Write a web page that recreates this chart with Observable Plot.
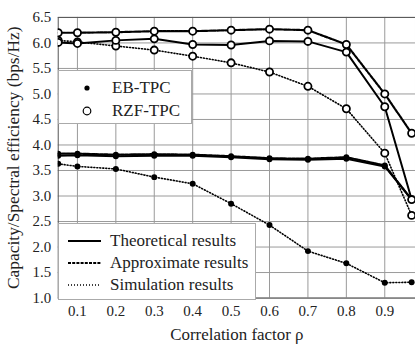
<!DOCTYPE html>
<html><head><meta charset="utf-8">
<script src="https://cdn.jsdelivr.net/npm/d3@7"></script>
<script src="https://cdn.jsdelivr.net/npm/@observablehq/plot@0.6"></script>
<style>
body{margin:0;overflow:hidden;background:#fff;}
#wrap{position:relative;width:415px;height:347px;overflow:hidden;font-family:"Liberation Serif","Times New Roman","DejaVu Serif",serif;color:#222;}
#wrap svg text{font-family:"Liberation Serif","Times New Roman","DejaVu Serif",serif;}
#wrap g[aria-label="y-axis label"] text{font-size:17.5px;}
#wrap g[aria-label="x-axis label"] text{font-size:17px;}
.leg{position:absolute;background:#fff;border:1px solid #aaa;box-sizing:border-box;}
.row{position:absolute;left:0;white-space:nowrap;font-size:17px;line-height:20px;}
.row svg{position:absolute;top:0;}
.row span{position:absolute;top:0;}
</style></head><body><div id="wrap"></div>
<script>
const rho = [0.05, 0.1, 0.2, 0.3, 0.4, 0.5, 0.6, 0.7, 0.8, 0.9, 0.97];
const rzfTheory = [6.01, 5.99, 6.05, 6.08, 5.97, 5.96, 6.04, 6.03, 5.82, 4.75, 2.93];
const rzfApprox = [6.20, 6.20, 6.21, 6.23, 6.23, 6.25, 6.27, 6.25, 5.97, 5.00, 4.23];
const rzfSim    = [6.05, 6.02, 5.94, 5.86, 5.74, 5.61, 5.43, 5.15, 4.71, 3.84, 2.62];
const ebTheory  = [3.79, 3.80, 3.78, 3.79, 3.79, 3.76, 3.72, 3.71, 3.73, 3.58, 2.93];
const ebApprox  = [3.83, 3.83, 3.81, 3.82, 3.81, 3.78, 3.74, 3.73, 3.76, 3.60, 2.93];
const ebSim     = [3.63, 3.58, 3.53, 3.37, 3.24, 2.85, 2.43, 1.92, 1.68, 1.30, 1.31];
const xTicks = [0.1, 0.2, 0.3, 0.4, 0.5, 0.6, 0.7, 0.8, 0.9];
const yTicks = [1.0, 1.5, 2.0, 2.5, 3.0, 3.5, 4.0, 4.5, 5.0, 5.5, 6.0, 6.5];
const schemes = ["EB-TPC", "RZF-TPC"];
const kinds = ["Theoretical results", "Approximate results", "Simulation results"];

const table = (vals, scheme, kind) => rho.map((r, i) => ({rho: r, v: vals[i], scheme, kind}));
const rzfT = table(rzfTheory, schemes[1], kinds[0]);
const rzfA = table(rzfApprox, schemes[1], kinds[1]);
const rzfS = table(rzfSim, schemes[1], kinds[2]);
const ebT = table(ebTheory, schemes[0], kinds[0]);
const ebA = table(ebApprox, schemes[0], kinds[1]);
const ebS = table(ebSim, schemes[0], kinds[2]);

const solid = {x: "rho", y: "v", stroke: "#000", strokeWidth: 2, clip: true};
const dashed = {x: "rho", y: "v", stroke: "#000", strokeWidth: 2.2, strokeDasharray: "3,1.2", clip: true};
const dotted = {x: "rho", y: "v", stroke: "#000", strokeWidth: 1.6, strokeDasharray: "1,2", clip: true};
const ring = {x: "rho", y: "v", r: 3.6, fill: "#fff", stroke: "#000", strokeWidth: 1.8, clip: true};
const dot = {x: "rho", y: "v", r: 3, fill: "#000", stroke: "none", clip: true};
const serif = "Liberation Serif, Times New Roman, DejaVu Serif, serif";

const chart = Plot.plot({
  width: 417, height: 347,
  marginLeft: 58, marginRight: 0, marginTop: 17, marginBottom: 48,
  style: {fontFamily: serif, fontSize: "15px", color: "#222", background: "transparent"},
  x: {domain: [0.05, 0.98]},
  y: {domain: [1, 6.5]},
  marks: [
    Plot.gridX(xTicks, {stroke: "#999", strokeOpacity: 1, strokeWidth: 1}),
    Plot.gridY(yTicks, {stroke: "#999", strokeOpacity: 1, strokeWidth: 1}),
    Plot.frame({stroke: "#555"}),
    Plot.axisX(xTicks, {tickSize: 0, tickPadding: 7, fontSize: 15, tickFormat: d3.format(".1f"),
      label: "Correlation factor ρ", labelAnchor: "center", labelArrow: "none", labelOffset: 42}),
    Plot.axisY(yTicks, {tickSize: 0, tickPadding: 7, fontSize: 15, tickFormat: d3.format(".1f"),
      label: "Capacity/Spectral efficiency (bps/Hz)", labelAnchor: "center", labelArrow: "none", labelOffset: 52}),
    Plot.line(ebS, dotted),
    Plot.line(ebT, solid),
    Plot.line(ebA, dashed),
    Plot.line(rzfS, dotted),
    Plot.line(rzfT, solid),
    Plot.line(rzfA, dashed),
    Plot.dot(ebS, dot),
    Plot.dot(ebT, dot),
    Plot.dot(ebA, dot),
    Plot.dot(rzfS, ring),
    Plot.dot(rzfT, ring),
    Plot.dot(rzfA, ring)
  ]
});
const wrap = document.getElementById("wrap");
wrap.appendChild(chart);

function legendBox(left, top, w, h) {
  const d = document.createElement("div");
  d.className = "leg";
  Object.assign(d.style, {left: left + "px", top: top + "px", width: w + "px", height: h + "px"});
  wrap.appendChild(d);
  return d;
}
function addRow(box, top, symbolSvg, symW, symLeft, textLeft, text) {
  const row = document.createElement("div");
  row.className = "row";
  row.style.top = top + "px";
  row.innerHTML = `<svg width="${symW}" height="20" style="left:${symLeft}px">${symbolSvg}</svg><span style="left:${textLeft}px">${text}</span>`;
  box.appendChild(row);
}
const b1 = legendBox(58, 70, 134, 54);
addRow(b1, 7, `<circle cx="10" cy="10" r="2.6" fill="#000"/>`, 20, 18, 53, schemes[0]);
addRow(b1, 30, `<circle cx="10" cy="10" r="3.8" fill="none" stroke="#000" stroke-width="1.2"/>`, 20, 18, 53, schemes[1]);

const b2 = legendBox(58, 223, 198, 77);
addRow(b2, 7, `<line x1="0" x2="33" y1="10" y2="10" stroke="#000" stroke-width="2"/>`, 34, 9, 51, kinds[0]);
addRow(b2, 29, `<line x1="0" x2="33" y1="10" y2="10" stroke="#000" stroke-width="2.2" stroke-dasharray="3,1.2"/>`, 34, 9, 51, kinds[1]);
addRow(b2, 51, `<line x1="0" x2="33" y1="10" y2="10" stroke="#000" stroke-width="1.6" stroke-dasharray="1,2"/>`, 34, 9, 51, kinds[2]);
</script></body></html>
